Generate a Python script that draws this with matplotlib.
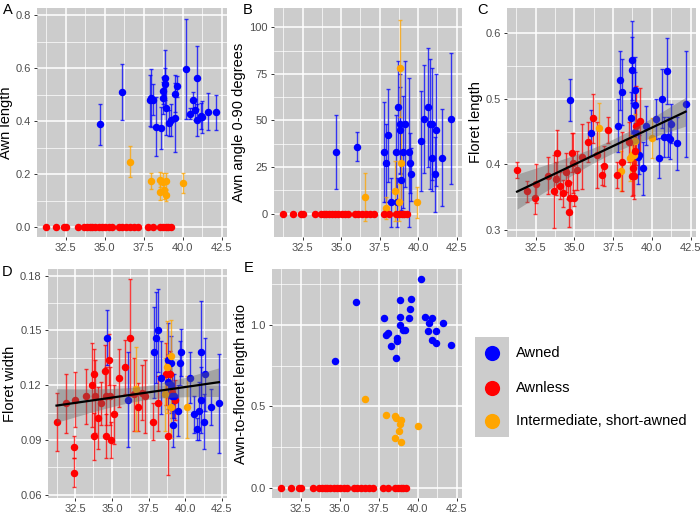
import numpy as np
import matplotlib.pyplot as plt
from matplotlib.ticker import MultipleLocator, FormatStrFormatter

plt.rcParams['font.family'] = ['Liberation Sans', 'DejaVu Sans']

BLUE, RED, ORANGE = '#0000FF', '#FF0000', '#FFA500'
PANEL_BG = '#CCCCCC'

# awnless populations sit at zero in panels A, B and E
red_x_zero = [31.25, 31.9, 32.37, 32.5, 33.3, 33.68, 33.87, 34.04, 34.21, 34.4,
              34.62, 34.83, 35.04, 35.26, 35.47, 35.9, 36.11, 36.39, 36.6, 36.88,
              37.14, 37.78, 38.1, 38.57, 38.74, 38.95, 39.06, 39.27]

# A: awn length
a_blue_x = [34.72, 36.13, 37.91, 38.0, 38.08, 38.29, 38.63, 38.72, 38.72, 38.85,
            38.89, 38.93, 39.1, 39.23, 39.49, 39.53, 39.62, 40.24, 40.47, 40.68,
            40.81, 40.94, 40.94, 41.15, 41.24, 41.6, 42.16]
a_blue_y = [0.389, 0.511, 0.479, 0.488, 0.482, 0.38, 0.374, 0.488, 0.516, 0.542,
            0.564, 0.45, 0.394, 0.404, 0.413, 0.504, 0.532, 0.597, 0.429, 0.482,
            0.444, 0.565, 0.406, 0.421, 0.416, 0.436, 0.434]
a_blue_err = [0.077, 0.107, 0.095, 0.11, 0.06, 0.11, 0.08, 0.06, 0.05, 0.06,
              0.105, 0.1, 0.05, 0.06, 0.13, 0.07, 0.04, 0.19, 0.02, 0.03,
              0.04, 0.12, 0.06, 0.05, 0.06, 0.07, 0.067]
a_orange_x = [36.65, 37.97, 38.57, 38.57, 38.74, 38.83, 38.93, 38.91, 40.02]
a_orange_y = [0.247, 0.174, 0.18, 0.132, 0.17, 0.142, 0.174, 0.12, 0.167]
a_orange_err = [0.058, 0.03, 0.03, 0.03, 0.035, 0.035, 0.03, 0.02, 0.038]

# B: awn angle
b_blue_x = [34.66, 36.06, 37.81, 37.94, 38.03, 38.25, 38.59, 38.68, 38.63, 38.85,
            38.85, 38.89, 39.04, 39.15, 39.41, 39.5, 39.56, 40.19, 40.4, 40.62,
            40.75, 40.92, 40.92, 41.1, 41.16, 41.57, 42.11]
b_blue_y = [33, 36, 33, 27, 42, 6, 33, 57, 6, 48, 45, 18, 33, 48, 33, 27, 21, 39,
            51, 57, 48, 48, 30, 21, 45, 30, 51]
b_blue_err = [20, 8, 27, 21, 25, 13, 20, 25, 13, 27, 23, 16, 30, 34, 40, 16, 14,
              27, 29, 32, 35, 30, 18, 20, 30, 26, 35]
b_orange_x = [36.56, 37.94, 38.5, 38.76, 38.81, 38.87, 39.95]
b_orange_y = [9, 3, 12, 6, 78, 27, 6]
b_orange_err = [13, 6, 16, 10, 26, 20, 8.5]

# C: floret length
c_red_x = [31.3, 31.92, 32.46, 32.52, 33.27, 33.68, 33.83, 33.9, 34.05, 34.26,
           34.47, 34.58, 34.62, 34.73, 34.84, 34.88, 34.95, 35.14, 35.48, 35.91,
           36.19, 36.43, 36.75, 36.94, 37.18, 37.74, 38.1, 38.55, 38.7, 38.79,
           38.83, 38.92, 39.0, 39.24]
c_red_y = [0.391, 0.359, 0.349, 0.371, 0.383, 0.359, 0.378, 0.418, 0.368, 0.356,
           0.388, 0.372, 0.328, 0.349, 0.418, 0.402, 0.349, 0.391, 0.412, 0.434,
           0.47, 0.414, 0.384, 0.398, 0.452, 0.384, 0.404, 0.434, 0.382, 0.394,
           0.382, 0.42, 0.459, 0.466]
c_red_err = [0.012, 0.016, 0.025, 0.03, 0.028, 0.055, 0.025, 0.035, 0.02, 0.02,
             0.03, 0.025, 0.023, 0.025, 0.03, 0.045, 0.012, 0.03, 0.05, 0.03,
             0.037, 0.05, 0.015, 0.03, 0.02, 0.02, 0.045, 0.03, 0.03, 0.04,
             0.035, 0.04, 0.06, 0.05]
c_blue_x = [34.69, 36.08, 37.97, 38.08, 37.84, 38.72, 38.72, 38.66, 38.92, 38.9,
            38.92, 39.09, 39.2, 39.45, 39.6, 40.25, 40.48, 40.68, 40.98, 40.8,
            41.02, 41.17, 41.21, 41.62, 42.18]
c_blue_y = [0.498, 0.448, 0.528, 0.51, 0.459, 0.558, 0.544, 0.47, 0.513, 0.49,
            0.45, 0.411, 0.415, 0.394, 0.459, 0.469, 0.41, 0.5, 0.542, 0.442,
            0.442, 0.438, 0.462, 0.432, 0.492]
c_blue_err = [0.032, 0.035, 0.045, 0.05, 0.04, 0.06, 0.05, 0.04, 0.05, 0.05,
              0.04, 0.04, 0.03, 0.04, 0.03, 0.03, 0.03, 0.045, 0.05, 0.03,
              0.03, 0.03, 0.03, 0.04, 0.08]
c_orange_x = [36.62, 37.99, 38.62, 38.7, 38.83, 38.92, 40.03]
c_orange_y = [0.456, 0.39, 0.41, 0.414, 0.415, 0.436, 0.44]
c_orange_err = [0.037, 0.03, 0.035, 0.03, 0.03, 0.04, 0.03]

# D: floret width
d_red_x = [31.23, 31.88, 32.46, 32.43, 32.39, 33.26, 33.66, 33.79, 33.84, 33.77,
           34.08, 34.29, 34.55, 34.58, 34.62, 34.84, 34.91, 34.87, 35.18, 35.49,
           35.92, 36.23, 36.5, 36.76, 37.08, 37.23, 37.81, 38.17, 38.71, 38.86,
           38.97, 39.08, 39.31]
d_red_y = [0.100, 0.110, 0.112, 0.086, 0.072, 0.114, 0.120, 0.126, 0.114, 0.092,
           0.102, 0.110, 0.128, 0.114, 0.092, 0.134, 0.090, 0.114, 0.104, 0.124,
           0.130, 0.146, 0.115, 0.108, 0.116, 0.114, 0.100, 0.110, 0.126, 0.092,
           0.126, 0.116, 0.112]
d_red_err = [0.016, 0.016, 0.015, 0.006, 0.008, 0.015, 0.023, 0.014, 0.02, 0.013,
             0.017, 0.012, 0.014, 0.016, 0.012, 0.014, 0.01, 0.016, 0.016, 0.016,
             0.015, 0.032, 0.02, 0.013, 0.015, 0.02, 0.01, 0.015, 0.017, 0.021,
             0.013, 0.01, 0.011]
d_blue_x = [34.69, 36.12, 38.13, 38.04, 37.9, 38.37, 38.82, 39.0, 38.82, 39.0,
            39.13, 39.26, 39.2, 39.53, 39.69, 39.64, 40.33, 40.58, 40.8, 40.92,
            41.09, 41.09, 41.32, 41.29, 41.76, 42.3]
d_blue_y = [0.146, 0.112, 0.150, 0.146, 0.138, 0.124, 0.134, 0.132, 0.122, 0.120,
            0.114, 0.114, 0.098, 0.106, 0.138, 0.132, 0.124, 0.104, 0.096, 0.106,
            0.138, 0.112, 0.126, 0.100, 0.108, 0.110]
d_blue_err = [0.015, 0.026, 0.023, 0.025, 0.025, 0.02, 0.02, 0.015, 0.015, 0.015,
              0.012, 0.012, 0.012, 0.014, 0.013, 0.012, 0.014, 0.01, 0.006, 0.016,
              0.028, 0.018, 0.02, 0.015, 0.01, 0.027]
d_orange_x = [36.65, 39.0, 38.73, 39.0, 38.64, 40.13]
d_orange_y = [0.118, 0.136, 0.130, 0.108, 0.115, 0.108]
d_orange_err = [0.023, 0.02, 0.025, 0.017, 0.02, 0.017]

# E: awn-to-floret length ratio
e_blue_x = [34.67, 36.07, 37.82, 37.97, 38.07, 38.29, 38.61, 38.69, 38.69, 38.88,
            38.88, 38.88, 39.05, 39.2, 39.46, 39.52, 39.59, 40.22, 40.46, 40.65,
            40.73, 40.95, 40.95, 41.16, 41.2, 41.6, 42.16]
e_blue_y = [0.78, 1.14, 1.04, 0.94, 0.95, 0.87, 0.80, 0.92, 0.90, 1.15, 1.05, 1.00,
            0.97, 0.97, 1.04, 1.10, 1.16, 1.28, 1.05, 0.96, 1.01, 1.04, 0.91, 0.96,
            0.89, 1.01, 0.88]
e_orange_x = [36.6, 37.99, 38.57, 38.63, 38.91, 38.89, 38.78, 38.57, 38.93, 40.04]
e_orange_y = [0.545, 0.445, 0.443, 0.43, 0.418, 0.394, 0.347, 0.306, 0.28, 0.382]

legend_labels = ['Awned', 'Awnless', 'Intermediate, short-awned']
legend_colors = [BLUE, RED, ORANGE]

W, H = 700, 515
fig = plt.figure(figsize=(W / 100, H / 100), dpi=100)


def px_axes(left, top, right, bottom):
    return fig.add_axes([left / W, 1 - bottom / H, (right - left) / W, (bottom - top) / H])


def style(ax, ylim, step, fmt, ylabel):
    ax.set_facecolor(PANEL_BG)
    ax.set_xlim(30.65, 42.85)
    ax.set_ylim(*ylim)
    ax.xaxis.set_major_locator(MultipleLocator(2.5))
    ax.xaxis.set_minor_locator(MultipleLocator(1.25))
    ax.yaxis.set_major_locator(MultipleLocator(step))
    ax.yaxis.set_minor_locator(MultipleLocator(step / 2))
    ax.xaxis.set_major_formatter(FormatStrFormatter('%.1f'))
    ax.yaxis.set_major_formatter(FormatStrFormatter(fmt))
    ax.grid(which='major', color='white', lw=1.1)
    ax.grid(which='minor', color='white', lw=0.5)
    ax.set_axisbelow(True)
    for s in ax.spines.values():
        s.set_visible(False)
    ax.tick_params(which='major', length=2.5, width=0.7, color='#333333',
                   labelsize=8, labelcolor='#4D4D4D', pad=2)
    ax.tick_params(which='minor', length=0)
    ax.set_ylabel(ylabel, fontsize=10.5, labelpad=2)


def points(ax, x, y, color, err=None):
    if err is not None:
        ax.errorbar(x, y, yerr=err, fmt='none', ecolor=color, elinewidth=1.0,
                    capsize=1.5, capthick=1.0, alpha=0.75, zorder=2)
    ax.scatter(x, y, s=29, color=color, lw=0, zorder=2.5)


def lm_band(ax, x, y):
    x = np.asarray(x)
    y = np.asarray(y)
    b, a = np.polyfit(x, y, 1)
    xs = np.linspace(x.min(), x.max(), 80)
    fit = a + b * xs
    n = len(x)
    s = np.sqrt(np.sum((y - (a + b * x)) ** 2) / (n - 2))
    se = s * np.sqrt(1 / n + (xs - x.mean()) ** 2 / np.sum((x - x.mean()) ** 2))
    ax.fill_between(xs, fit - 1.99 * se, fit + 1.99 * se, color='#666666',
                    alpha=0.4, lw=0, zorder=3)
    ax.plot(xs, fit, color='black', lw=1.6, zorder=4)


zeros = [0] * len(red_x_zero)

# A
ax = px_axes(37, 8, 227, 237)
style(ax, (-0.037, 0.828), 0.2, '%.1f', 'Awn length')
points(ax, red_x_zero, zeros, RED)
points(ax, a_blue_x, a_blue_y, BLUE, a_blue_err)
points(ax, a_orange_x, a_orange_y, ORANGE, a_orange_err)

# B
ax = px_axes(274, 8, 462, 237)
style(ax, (-12.6, 110.4), 25, '%d', 'Awn angle 0-90 degrees')
points(ax, b_blue_x, b_blue_y, BLUE, b_blue_err)
points(ax, b_orange_x, b_orange_y, ORANGE, b_orange_err)
points(ax, red_x_zero, zeros, RED)

# C
ax = px_axes(507, 8, 696, 237)
style(ax, (0.2898, 0.6376), 0.1, '%.1f', 'Floret length')
points(ax, c_blue_x, c_blue_y, BLUE, c_blue_err)
points(ax, c_orange_x, c_orange_y, ORANGE, c_orange_err)
points(ax, c_red_x, c_red_y, RED, c_red_err)
lm_band(ax, c_red_x + c_blue_x + c_orange_x, c_red_y + c_blue_y + c_orange_y)

# D
ax = px_axes(48, 269, 227, 498)
style(ax, (0.0582, 0.1837), 0.03, '%.2f', 'Floret width')
points(ax, d_red_x, d_red_y, RED, d_red_err)
points(ax, d_blue_x, d_blue_y, BLUE, d_blue_err)
points(ax, d_orange_x, d_orange_y, ORANGE, d_orange_err)
lm_band(ax, d_red_x + d_blue_x + d_orange_x, d_red_y + d_blue_y + d_orange_y)

# E
ax = px_axes(272, 269, 462, 498)
style(ax, (-0.061, 1.343), 0.5, '%.1f', 'Awn-to-floret length ratio')
points(ax, red_x_zero, zeros, RED)
points(ax, e_blue_x, e_blue_y, BLUE)
points(ax, e_orange_x, e_orange_y, ORANGE)

# panel letters
for letter, (lx, ly) in zip('ABCDE', [(3, 10), (243, 10), (477, 10), (2, 272), (244, 268)]):
    fig.text(lx / W, 1 - ly / H, letter, fontsize=10.5, va='center', ha='left')

# legend
lax = px_axes(475, 337, 509, 437)
lax.set_facecolor(PANEL_BG)
lax.set_xlim(0, 1)
lax.set_ylim(437, 337)
lax.set_xticks([])
lax.set_yticks([])
for s in lax.spines.values():
    s.set_visible(False)
for label, color, ky in zip(legend_labels, legend_colors, [353, 388, 421]):
    lax.scatter([0.5], [ky], s=120, color=color, lw=0)
    fig.text(516 / W, 1 - ky / H, label, fontsize=10.5, va='center', ha='left')

fig.savefig('out.png', dpi=100)
